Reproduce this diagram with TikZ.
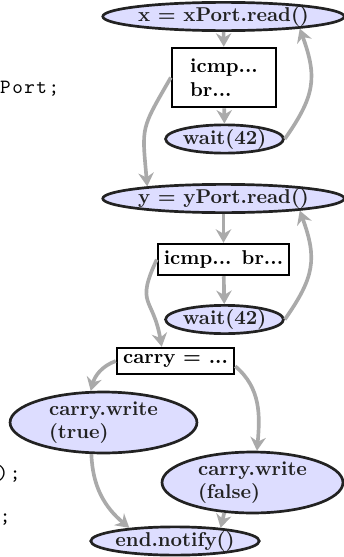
\documentclass[tikz,border=0pt]{standalone}
\usetikzlibrary{shapes.geometric,arrows.meta}
\definecolor{nodefill}{RGB}{221,221,255}
\definecolor{edgegray}{RGB}{170,170,170}
\definecolor{outlinec}{RGB}{34,34,34}
\newcommand\lstcell[1]{\makebox[6.3pt]{#1}}
\begin{document}
\begin{tikzpicture}[x=0.52pt,y=0.52pt,
  ell/.style={ellipse, draw=outlinec, line width=1.4pt, fill=nodefill, inner sep=0pt, font=\fontsize{10.4}{12.2}\selectfont\bfseries, text=outlinec},
  blk/.style={rectangle, draw=black, line width=1.3pt, fill=white, inner sep=0pt, font=\fontsize{10.4}{12.2}\selectfont\bfseries},
  flow/.style={draw=edgegray, line width=1.9pt, -{Stealth[length=7pt,width=8pt,inset=2.3pt]}},
  code/.style={font=\fontsize{10.5}{12}\selectfont\ttfamily, inner sep=0pt}]
\useasboundingbox (0,0) rectangle (343,-557);
% code fragments at the left edge
\node[code, anchor=base west] (c1) at (-1,-93) {\lstcell{P}\lstcell{o}\lstcell{r}\lstcell{t}\lstcell{;}};
\node[code, anchor=base east] (c2) at (21.5,-479) {\lstcell{)}\lstcell{;}};
\node[code, anchor=base east] (c3) at (11.5,-522) {\lstcell{;}};
% nodes
\node[ell, minimum width=124.3pt, minimum height=14pt] (xr) at (223.5,-16.5) {x = xPort.read()};
\node[blk, align=left, minimum width=54pt, minimum height=30.7pt] (b1) at (224,-77.5) {icmp...\\br...};
\node[ell, minimum width=60.8pt, minimum height=14pt] (w1) at (224.5,-139) {wait(42)};
\node[ell, minimum width=124.3pt, minimum height=14pt] (yr) at (223.5,-198.5) {y = yPort.read()};
\node[blk, minimum width=68.1pt, minimum height=16.1pt] (b2) at (223.5,-259.5) {icmp... br...};
\node[ell, minimum width=60.8pt, minimum height=14pt] (w2) at (224.5,-319.5) {wait(42)};
\node[blk, minimum width=60.8pt, minimum height=13.5pt] (carry) at (175.5,-361) {carry = ...};
\node[ell, align=left, minimum width=97.2pt, minimum height=31.7pt] (tw) at (103.5,-422.5) {carry.write\\(true)};
\node[ell, align=left, minimum width=94.1pt, minimum height=31.7pt] (fw) at (252.5,-482.5) {carry.write\\(false)};
\node[ell, minimum width=86.3pt, minimum height=13pt] (en) at (175,-541) {end.notify()};
% connectors
\draw[flow] (xr) -- (b1);
\draw[flow] (b1) -- (w1);
\draw[flow] (w1.east) to[out=55,in=-70,looseness=1.2] (xr.-9);
\draw[flow] (b1.west) to[out=-120,in=95,looseness=1.4] (yr.171);
\draw[flow] (yr) -- (b2);
\draw[flow] (b2) -- (w2);
\draw[flow] (w2.east) to[out=55,in=-70,looseness=1.2] (yr.-9);
\draw[flow] (b2.west) to[out=-115,in=100,looseness=1.5] (carry.134);
\draw[flow] (carry.west) to[out=200,in=75] (tw.112);
\draw[flow] (carry.-5) to[out=-40,in=85] (fw.82);
\draw[flow] (tw.-111) to[out=-88,in=140] (en.164);
\draw[flow] (fw.-133) -- (en.16);
\end{tikzpicture}
\end{document}
